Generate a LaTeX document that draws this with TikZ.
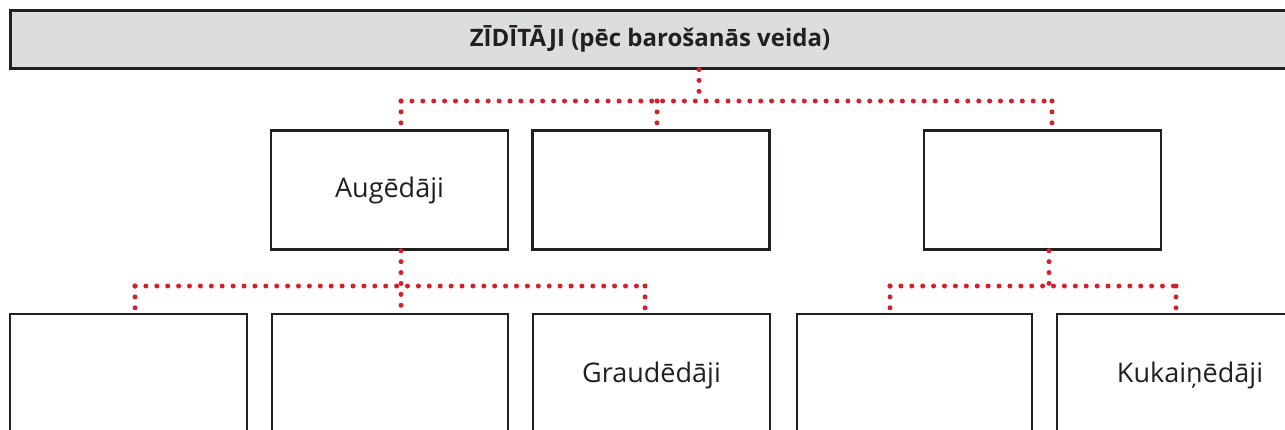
\documentclass[tikz,border=0pt]{standalone}
\usepackage{fontspec}
\setmainfont{Open Sans}
\definecolor{inkgray}{RGB}{35,31,32}
\definecolor{bannergray}{RGB}{220,221,223}
\definecolor{dotred}{RGB}{214,30,44}
\tikzset{
  banner/.style={draw=inkgray, line width=3pt, fill=bannergray, minimum width=1280pt, minimum height=58pt, inner sep=0pt, text=inkgray, font=\fontsize{24}{28}\selectfont\bfseries},
  catbox/.style={draw=inkgray, line width=2.5pt, fill=white, minimum width=237pt, minimum height=119pt, inner sep=0pt, text=inkgray, font=\fontsize{27}{32}\selectfont},
  lowbox/.style={catbox, minimum height=122pt},
  dots/.style={draw=dotred, line width=5pt, line cap=round, dash pattern=on 0pt off 10.9pt}
}
\begin{document}
\begin{tikzpicture}[x=1pt, y=-1pt]
    \useasboundingbox (0,0) rectangle (1285,429);
    \clip (0,0) rectangle (1285,429);

    % Top banner
    \node[banner] (title) at (650,39) {ZĪDĪTĀJI (pēc barošanās veida)};

    % Second row
    \node[catbox] (augedaji) at (389.5,190) {Augēdāji};
    \node[catbox] (middle) at (651,190) {};
    \node[catbox] (right) at (1042.5,190) {};

    % Third row
    \node[lowbox] (low1) at (128.5,375) {};
    \node[lowbox, minimum width=236pt] (low2) at (390,375) {};
    \node[lowbox] (graudedaji) at (651.5,375) {Graudēdāji};
    \node[lowbox, minimum width=235pt] (low4) at (914.5,375) {};
    \node[lowbox, minimum width=266pt] (kukainedaji) at (1190,375) {Kukaiņēdāji};

    % Junction points of the dotted lines
    \coordinate (topmid) at (699,101);
    \coordinate (topleft) at (401,101);
    \coordinate (topcenter) at (657,101);
    \coordinate (topright) at (1052,101);
    \coordinate (lowleft) at (135,286);
    \coordinate (lowmid) at (401,286);
    \coordinate (lowright) at (645,286);
    \coordinate (rightleft) at (890,286);
    \coordinate (rightmid) at (1049,286);
    \coordinate (rightright) at (1176,286);

    % Dotted connectors from the banner
    \draw[dots] (title.south -| topmid) -- (topmid);
    \draw[dots] (topleft) -- (topright);
    \draw[dots] (topleft) -- (topleft |- augedaji.north);
    \draw[dots] (topcenter) -- (topcenter |- middle.north);
    \draw[dots] (topright) -- (topright |- right.north);

    % Dotted connectors below Augedaji
    \draw[dots] (augedaji.south -| lowmid) -- (lowmid |- low2.north);
    \draw[dots] (lowleft) -- (lowright);
    \draw[dots] (lowleft) -- (lowleft |- low1.north);
    \draw[dots] (lowright) -- (lowright |- graudedaji.north);

    % Dotted connectors below the right box
    \draw[dots] (right.south -| rightmid) -- (rightmid);
    \draw[dots] (rightleft) -- (rightright);
    \draw[dots] (rightleft) -- (rightleft |- low4.north);
    \draw[dots] (rightright) -- (rightright |- kukainedaji.north);
\end{tikzpicture}
\end{document}
